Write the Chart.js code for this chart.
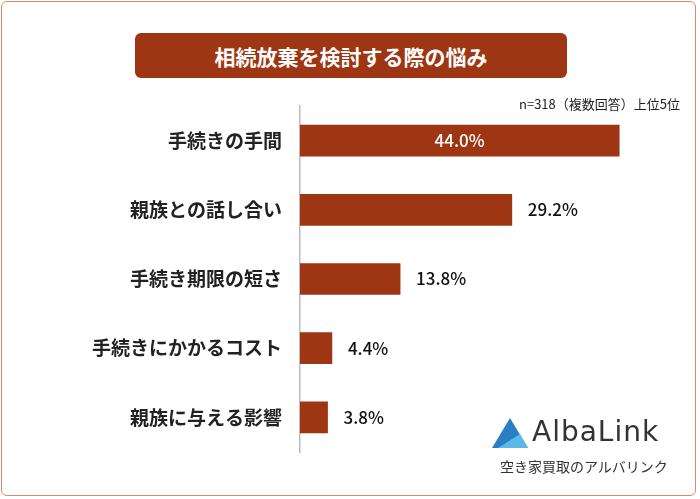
<!DOCTYPE html>
<html><head><meta charset="utf-8">
<script src="https://cdn.jsdelivr.net/npm/chart.js@4"></script>
<style>
body{margin:0;width:700px;height:499px;position:relative;background:#fff;font-family:"Noto Sans CJK JP",sans-serif;overflow:hidden}
#frame{position:absolute;left:1px;top:1px;width:695px;height:495px;border:1.5px solid #d98a66;border-radius:6px;box-sizing:border-box}
#title{position:absolute;left:135px;top:33px;width:432px;height:45px;background:#9e3513;border-radius:6px;color:#fff;font-weight:bold;font-size:21px;display:flex;align-items:center;justify-content:center}
#note{position:absolute;right:20px;top:94px;font-size:13px;color:#222}
#logo{position:absolute;left:490px;top:418px}
#logo .t{font-family:"DejaVu Sans";font-size:28px;color:#333;position:absolute;left:42px;top:-3px;letter-spacing:1px}
#logo .s{position:absolute;left:10px;top:38px;font-size:14px;color:#333;white-space:nowrap}
#c{position:absolute;left:0;top:0}
</style></head><body>
<div id="frame"></div>
<canvas id="c" width="700" height="499"></canvas>
<div id="title">相続放棄を検討する際の悩み</div>
<div id="note">n=318（複数回答）上位5位</div>
<div id="logo"><svg width="40" height="32"><polygon points="20,0 2,30 38,30" fill="#2a7fc4"/><polygon points="8,30 38,30 30,16" fill="#5bb8e8"/></svg><span class="t">AlbaLink</span><span class="s">空き家買取のアルバリンク</span></div>
<script>
const categories=["手続きの手間","親族との話し合い","手続き期限の短さ","手続きにかかるコスト","親族に与える影響"];
const values=[44.0,29.2,13.8,4.4,3.8];
const labelPlugin={id:'lbl',afterDatasetsDraw(ch){const ctx=ch.ctx;const m=ch.getDatasetMeta(0);ctx.save();ctx.font='500 17px "Noto Sans CJK JP"';ctx.textBaseline='middle';
m.data.forEach((b,i)=>{const t=values[i].toFixed(1)+'%';if(i===0){ctx.fillStyle='#fff';ctx.textAlign='center';ctx.fillText(t,(b.x+b.base)/2,b.y);}else{ctx.fillStyle='#111';ctx.textAlign='left';ctx.fillText(t,b.x+16,b.y);}});ctx.restore();}};
new Chart(document.getElementById('c'),{type:'bar',data:{labels:categories,datasets:[{data:values,backgroundColor:'#9e3513',barThickness:31}]},
options:{indexAxis:'y',responsive:false,animation:false,layout:{padding:{top:106,bottom:47,right:30,left:0}},
plugins:{legend:{display:false},tooltip:{enabled:false}},
scales:{x:{min:0,max:51,display:false,grid:{display:false}},
y:{afterFit(s){s.width=300},grid:{display:false},border:{color:'#bbb',width:1.5},ticks:{color:'#222',padding:10,font:{size:19,weight:'bold',family:'"Noto Sans CJK JP"'}}}}},
plugins:[labelPlugin]});
</script></body></html>
